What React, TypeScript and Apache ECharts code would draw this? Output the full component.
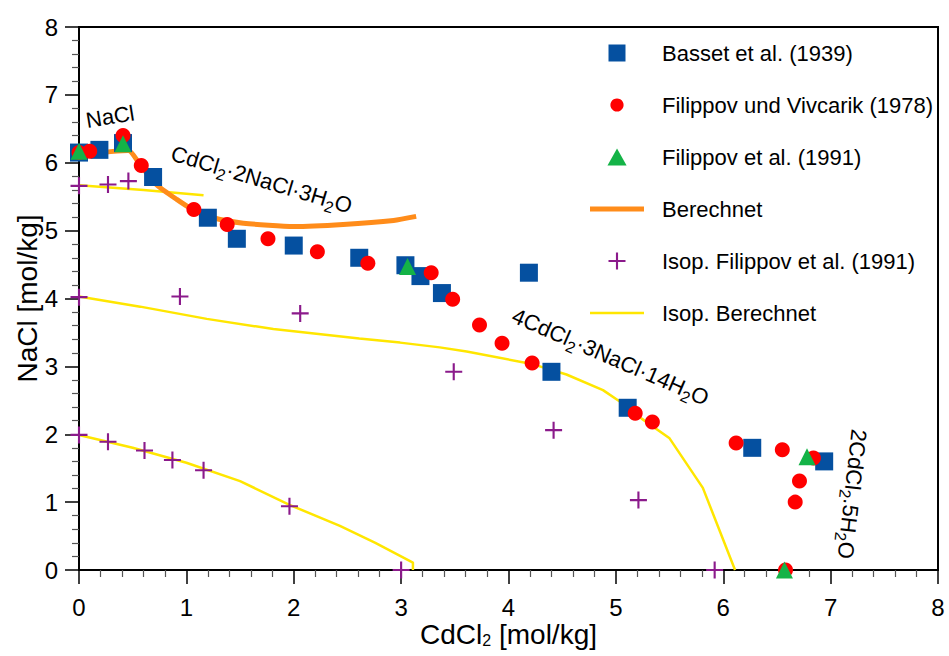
import React, { useEffect, useRef } from "react";
import * as echarts from "echarts";

const FONT = "Liberation Sans, Arial, sans-serif";

// Basset et al. (1939)
const bassetData: number[][] = [
  [0, 6.15], [0.19, 6.19], [0.41, 6.29], [0.69, 5.79], [1.2, 5.19], [1.47, 4.88],
  [2.0, 4.78], [2.61, 4.6], [3.04, 4.49], [3.18, 4.33], [3.38, 4.08], [4.19, 4.38],
  [4.4, 2.92], [5.11, 2.39], [6.27, 1.8], [6.94, 1.6],
];

// Filippov und Vivcarik (1978)
const vivcarikData: number[][] = [
  [0, 6.15], [0.1, 6.17], [0.41, 6.4], [0.58, 5.96], [1.07, 5.31], [1.38, 5.09],
  [1.76, 4.88], [2.22, 4.69], [2.69, 4.52], [3.28, 4.38], [3.48, 3.99], [3.73, 3.61],
  [3.94, 3.34], [4.22, 3.05], [5.18, 2.31], [5.34, 2.18], [6.12, 1.87], [6.55, 1.77],
  [6.84, 1.65], [6.71, 1.31], [6.67, 1.0], [6.58, 0.0],
];

// Filippov et al. (1991)
const filippovData: number[][] = [
  [0, 6.17], [0.41, 6.28], [3.06, 4.47], [6.78, 1.67], [6.57, 0.0],
];

// Berechnet
const berechnetData: number[][] = [
  [0, 6.13], [0.26, 6.16], [0.46, 6.18], [0.57, 5.97], [0.72, 5.68], [0.91, 5.46],
  [1.06, 5.31], [1.25, 5.19], [1.53, 5.11], [2.0, 5.06], [2.46, 5.09], [2.93, 5.15],
  [3.14, 5.21],
];

// Isop. Filippov et al. (1991)
const isopFilippovData: number[][] = [
  [0, 5.66], [0.27, 5.68], [0.46, 5.73],
  [0, 4.02], [0.94, 4.03], [2.06, 3.78], [3.49, 2.92], [4.42, 2.06], [5.21, 1.03], [5.92, 0.0],
  [0, 1.99], [0.27, 1.89], [0.61, 1.76], [0.87, 1.62], [1.16, 1.47], [1.96, 0.94], [3.0, 0.0],
];

// Isop. Berechnet (three isopiestic curves)
const isoCurve1: number[][] = [[0, 5.67], [0.6, 5.6], [1.16, 5.52]];
const isoCurve2: number[][] = [
  [0, 4.03], [0.57, 3.88], [1.19, 3.7], [1.81, 3.55], [2.61, 3.41], [2.99, 3.35],
  [3.36, 3.28], [3.61, 3.22], [4.23, 3.03], [4.54, 2.88], [4.88, 2.65], [5.04, 2.48],
  [5.24, 2.23], [5.5, 1.94], [5.81, 1.21], [6.11, 0.0],
];
const isoCurve3: number[][] = [
  [0, 1.99], [0.5, 1.8], [1.0, 1.58], [1.5, 1.31], [1.96, 0.96], [2.43, 0.65],
  [2.76, 0.4], [3.11, 0.11], [3.11, 0.0],
];

const legendNames = [
  "Basset et al. (1939)",
  "Filippov und Vivcarik (1978)",
  "Filippov et al. (1991)",
  "Berechnet",
  "Isop. Filippov et al. (1991)",
  "Isop. Berechnet",
];

// Annotations: data position, rich text, rotation (radians)
const annotations = [
  { pos: [0.29, 6.68], text: "NaCl", rotation: 0.16 },
  { pos: [1.7, 5.75], text: "CdCl{s|2}·2NaCl·3H{s|2}O", rotation: -0.29 },
  { pos: [4.95, 3.14], text: "4CdCl{s|2}·3NaCl·14H{s|2}O", rotation: -0.41 },
  { pos: [7.2, 1.12], text: "2CdCl{s|2}.5H{s|2}O", rotation: -1.68 },
];

const PLUS = "path://M7,0L9,0L9,7L16,7L16,9L9,9L9,16L7,16L7,9L0,9L0,7L7,7Z";
const SQUARE = "path://M0,0L18,0L18,18L0,18Z";
const TRIANGLE = "path://M9,0L18,16L0,16Z";
const SMALL_CIRCLE = "path://M0,0M18,18M9,2A7,7,0,1,1,8.99,2Z";
const THICK_BAR = "path://M0,0L54,0L54,5L0,5Z";
const THIN_BAR = "path://M0,0L54,0L54,2.5L0,2.5Z";

const subRich = {
  s: { fontSize: 16, fontFamily: FONT, verticalAlign: "bottom", lineHeight: 16, fill: "#000", color: "#000" },
};

export default function App() {
  const ref = useRef<HTMLDivElement>(null);
  useEffect(() => {
    if (!ref.current) return;
    const chart = echarts.init(ref.current, null, { renderer: "svg" });
    const axisCommon = {
      type: "value",
      min: 0,
      max: 8,
      interval: 1,
      nameMoveOverlap: false,
      axisLine: { show: true, lineStyle: { color: "#000", width: 2 } },
      axisTick: { show: true, inside: false, length: 14, lineStyle: { color: "#000", width: 1.5 } },
      minorTick: { show: true, splitNumber: 5, length: 7, lineStyle: { color: "#555", width: 1.2 } },
      splitLine: { show: false },
      minorSplitLine: { show: false },
    };
    const isoStyle = { color: "#ffe600", width: 2.5 };
    chart.setOption({
      animation: false,
      backgroundColor: "#fff",
      grid: {
        left: 79, right: 11, top: 27, bottom: 86,
        containLabel: false, outerBoundsMode: "none",
        show: true, borderColor: "#000", borderWidth: 2,
      },
      legend: {
        orient: "vertical",
        left: 585,
        top: 37,
        itemWidth: 54,
        itemHeight: 17,
        itemGap: 30,
        symbolKeepAspect: true,
        textStyle: { fontSize: 22, fontFamily: FONT, color: "#000", padding: [0, 0, 0, 13] },
        data: [
          { name: legendNames[0], icon: SQUARE },
          { name: legendNames[1], icon: SMALL_CIRCLE },
          { name: legendNames[2], icon: TRIANGLE },
          { name: legendNames[3], icon: THICK_BAR },
          { name: legendNames[4], icon: PLUS },
          { name: legendNames[5], icon: THIN_BAR },
        ],
      },
      xAxis: {
        ...axisCommon,
        axisLabel: { fontSize: 24, fontFamily: FONT, color: "#000", margin: 25 },
        name: "CdCl{s|2} [mol/kg]",
        nameLocation: "middle",
        nameGap: 50,
        nameTextStyle: { fontSize: 28, fontFamily: FONT, color: "#000", lineHeight: 28, rich: subRich },
      },
      yAxis: {
        ...axisCommon,
        axisLabel: { fontSize: 24, fontFamily: FONT, color: "#000", margin: 21 },
        name: "NaCl [mol/kg]",
        nameLocation: "middle",
        nameGap: 38,
        nameTextStyle: { fontSize: 28, fontFamily: FONT, color: "#000" },
      },
      series: [
        { name: "Isop. Berechnet", type: "line", data: isoCurve1, symbol: "none", lineStyle: isoStyle, itemStyle: { color: "#ffe600" }, z: 2 },
        { name: "Isop. Berechnet", type: "line", data: isoCurve2, symbol: "none", lineStyle: isoStyle, itemStyle: { color: "#ffe600" }, z: 2 },
        { name: "Isop. Berechnet", type: "line", data: isoCurve3, symbol: "none", lineStyle: isoStyle, itemStyle: { color: "#ffe600" }, z: 2 },
        { name: "Berechnet", type: "line", data: berechnetData, symbol: "none", smooth: 0.2, lineStyle: { color: "#ff8c1a", width: 5 }, itemStyle: { color: "#ff8c1a" }, z: 3 },
        { name: "Basset et al. (1939)", type: "scatter", data: bassetData, symbol: "rect", symbolSize: 18, itemStyle: { color: "#0550a0", opacity: 1 }, z: 4 },
        { name: "Filippov und Vivcarik (1978)", type: "scatter", data: vivcarikData, symbol: "circle", symbolSize: 15, itemStyle: { color: "#ff0000", opacity: 1 }, z: 5 },
        { name: "Filippov et al. (1991)", type: "scatter", data: filippovData, symbol: "triangle", symbolSize: 17, itemStyle: { color: "#14b347", opacity: 1 }, z: 6 },
        { name: "Isop. Filippov et al. (1991)", type: "scatter", data: isopFilippovData, symbol: PLUS, symbolSize: 17, itemStyle: { color: "#8b1a8b", opacity: 1 }, z: 7 },
      ],
    });
    const graphic = annotations.map((a) => {
      const p = chart.convertToPixel({ gridIndex: 0 }, a.pos) as number[];
      return {
        type: "text",
        x: p[0],
        y: p[1],
        rotation: a.rotation,
        z: 10,
        style: {
          text: a.text,
          fontSize: 22,
          fontFamily: FONT,
          fill: "#000",
          align: "center",
          verticalAlign: "middle",
          lineHeight: 30,
          rich: subRich,
        },
      };
    });
    chart.setOption({ graphic });
    return () => chart.dispose();
  }, []);
  return <div ref={ref} style={{ position: "fixed", left: 0, top: 0, width: 949, height: 656 }} />;
}
